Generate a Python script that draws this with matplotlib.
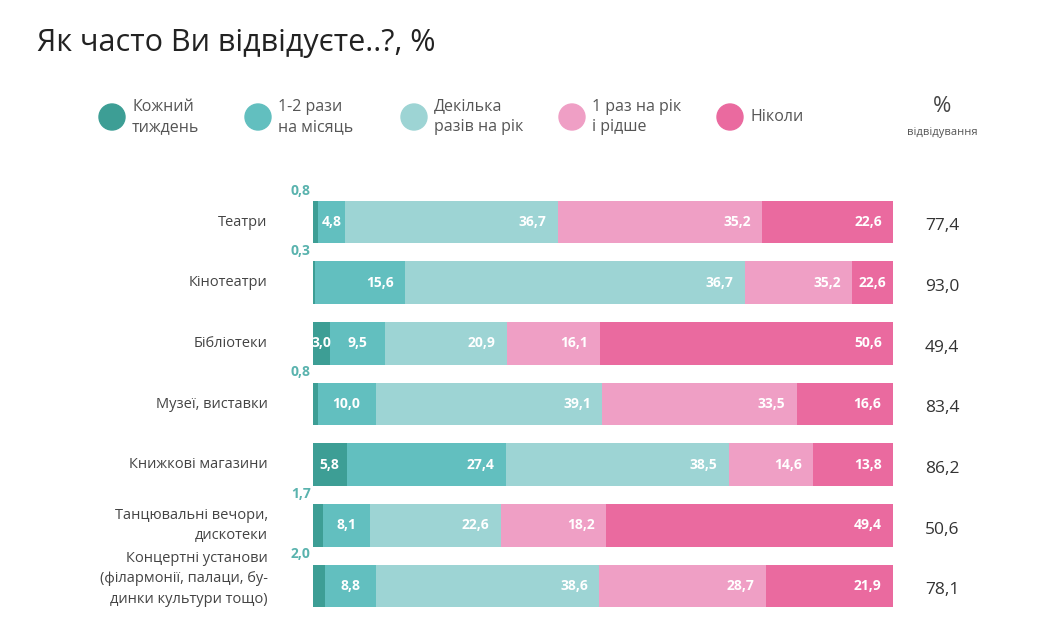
import matplotlib.pyplot as plt
from matplotlib.patches import Ellipse
import numpy as np

plt.rcParams['font.family'] = ['Open Sans', 'DejaVu Sans']

# ====== дані ======
categories = [
    "Театри",
    "Кінотеатри",
    "Бібліотеки",
    "Музеї, виставки",
    "Книжкові магазини",
    "Танцювальні вечори,\nдискотеки",
    "Концертні установи\n(філармонії, палаци, бу-\nдинки культури тощо)",
]
series_names = ["Кожний\nтиждень", "1-2 рази\nна місяць", "Декілька\nразів на рік",
                "1 раз на рік\nі рідше", "Ніколи"]

# ширина сегментів (як намальовано)
weekly = [0.8, 0.3, 3.0, 0.8, 5.8, 1.7, 2.0]
monthly = [4.8, 15.6, 9.5, 10.0, 27.4, 8.1, 8.8]
several = [36.7, 58.6, 20.9, 39.1, 38.5, 22.6, 38.6]
yearly = [35.2, 18.5, 16.1, 33.5, 14.6, 18.2, 28.7]
never = [22.6, 7.0, 50.6, 16.6, 13.8, 49.4, 21.9]

# підписи (як надруковано на графіку)
weekly_lbl = ["0,8", "0,3", "3,0", "0,8", "5,8", "1,7", "2,0"]
monthly_lbl = ["4,8", "15,6", "9,5", "10,0", "27,4", "8,1", "8,8"]
several_lbl = ["36,7", "36,7", "20,9", "39,1", "38,5", "22,6", "38,6"]
yearly_lbl = ["35,2", "35,2", "16,1", "33,5", "14,6", "18,2", "28,7"]
never_lbl = ["22,6", "22,6", "50,6", "16,6", "13,8", "49,4", "21,9"]

attendance = ["77,4", "93,0", "49,4", "83,4", "86,2", "50,6", "78,1"]

colors = ["#3d9e95", "#62bfbf", "#9dd4d4", "#ef9fc5", "#ea6a9f"]

W, H = 1045, 629

# ====== малюємо ======
fig = plt.figure(figsize=(W / 100, H / 100), dpi=100)
ax = fig.add_axes([0.2995, 0.0202, 0.555, 0.675])

values = [weekly, monthly, several, yearly, never]
labels = [weekly_lbl, monthly_lbl, several_lbl, yearly_lbl, never_lbl]
y = np.arange(len(categories))
left = np.zeros(len(categories))

for s in range(5):
    vals = np.array(values[s])
    ax.barh(y, vals, left=left, height=0.7, color=colors[s], edgecolor="none")
    for i, v in enumerate(vals):
        lbl = labels[s][i]
        if s == 0 and v < 2.5:
            # маленькі значення над смугою
            ax.text(-0.4, i - 0.52, lbl, ha="right", va="center", fontsize=10,
                    fontweight="bold", color="#5ab3ae")
            continue
        if v < 12:
            ax.text(left[i] + v / 2, i, lbl, ha="center", va="center",
                    fontsize=10, fontweight="bold", color="white")
        else:
            ax.text(left[i] + v - 2.0, i, lbl, ha="right", va="center",
                    fontsize=10, fontweight="bold", color="white")
    left += vals

ax.set_xlim(0, 100)
ax.set_ylim(len(categories) - 0.5, -0.5)
ax.axis("off")

# назви категорій
for i, c in enumerate(categories):
    off = -0.12 if c.count("\n") == 2 else 0
    ax.text(-7.8, i + off, c, ha="right", va="center", fontsize=10.5,
            color="#444444", linespacing=1.5)

# % відвідування
for i, a in enumerate(attendance):
    ax.text(105.5, i + 0.07, a, ha="left", va="center", fontsize=12.5, color="#333333")

# заголовок
fig.text(37 / W, 1 - 43 / H, "Як часто Ви відвідуєте..?, %", ha="left",
         va="center", fontsize=22, color="#222222")

# легенда
leg_x = [112, 258, 414, 572, 730]
for k in range(5):
    fig.patches.append(Ellipse((leg_x[k] / W, 1 - 117 / H), 26 / W, 26 / H,
                               transform=fig.transFigure, color=colors[k],
                               figure=fig))
    fig.text((leg_x[k] + 20) / W, 1 - 117 / H, series_names[k], ha="left",
             va="center", fontsize=11.5, color="#555555", linespacing=1.4)

fig.text(942 / W, 1 - 106 / H, "%", ha="center", va="center", fontsize=16,
         color="#444444")
fig.text(942 / W, 1 - 133 / H, "відвідування", ha="center", va="center",
         fontsize=8, color="#555555")

plt.savefig("out.png", dpi=100)
plt.close()
